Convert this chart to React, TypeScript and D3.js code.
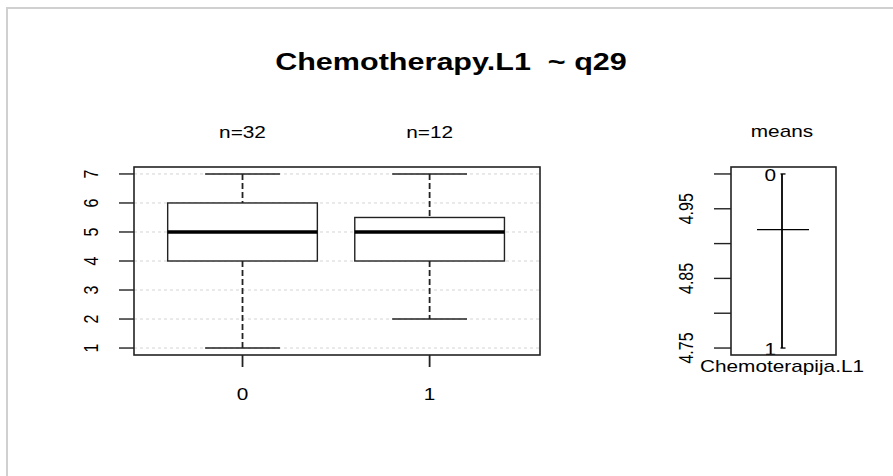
import React from 'react';
import * as d3 from 'd3';

// box plot stats for q29 by Chemotherapy.L1
const groups = ['0', '1'];
const counts = [32, 12];
const mins = [1, 2];
const q1s = [4, 4];
const medians = [5, 5];
const q3s = [6, 5.5];
const maxs = [7, 7];
const yTicks = [1, 2, 3, 4, 5, 6, 7];

// means panel
const groupMeans = [5.0, 4.75];
const grandMean = 4.92;
const meanTicks = [4.75, 4.8, 4.85, 4.9, 4.95, 5.0];
const meanTickLabels = ['4.75', '', '4.85', '', '4.95', ''];

const W = 893;
const H = 476;
const SX = 1.3; // the picture is stretched sideways
const FONT = '"Liberation Sans", Arial, sans-serif';
const INK = '#222';

const Label = ({ x, y, size = 16, anchor = 'middle', bold = false, rot = false, children }: any) => (
  <text
    transform={`translate(${x},${y}) scale(${SX},1)${rot ? ' rotate(-90)' : ''}`}
    textAnchor={anchor}
    fontFamily={FONT}
    fontSize={size}
    fontWeight={bold ? 'bold' : 'normal'}
    fill="#000"
  >
    {children}
  </text>
);

export default function App() {
  // main panel
  const m = { left: 134, right: 540, top: 167, bottom: 355 };
  const x = d3.scaleLinear().domain([-0.58, 1.59]).range([m.left, m.right]);
  const y = d3.scaleLinear().domain([0.76, 7.24]).range([m.bottom, m.top]);
  const step = x(1) - x(0);
  const boxW = step * 0.8;
  const capW = boxW / 2;

  // means panel
  const p = { left: 731, right: 836, top: 167, bottom: 355 };
  const ym = d3.scaleLinear().domain([4.74, 5.01]).range([p.bottom, p.top]);
  const mx = 782;

  return (
    <svg width={W} height={H} style={{ position: 'absolute', left: 0, top: 0, background: '#fff' }}>
      <rect x={7} y={8} width={W} height={H} fill="#fff" stroke="#d0d0d0" strokeWidth={2} />

      <Label x={451} y={70} size={23.5} bold>Chemotherapy.L1{'\u00a0 '}~ q29</Label>

      {/* grid */}
      {yTicks.map(t => (
        <line key={'g' + t} x1={m.left} x2={m.right} y1={y(t)} y2={y(t)}
          stroke="#d4d4d4" strokeDasharray="3,3" strokeWidth={1} />
      ))}

      {/* boxes */}
      {groups.map((g, i) => {
        const cx = x(i);
        return (
          <g key={g}>
            <line x1={cx} x2={cx} y1={y(maxs[i])} y2={y(q3s[i])} stroke={INK} strokeWidth={1.8} strokeDasharray="6,3" />
            <line x1={cx} x2={cx} y1={y(q1s[i])} y2={y(mins[i])} stroke={INK} strokeWidth={1.8} strokeDasharray="6,3" />
            <line x1={cx - capW / 2} x2={cx + capW / 2} y1={y(maxs[i])} y2={y(maxs[i])} stroke={INK} strokeWidth={1.4} />
            <line x1={cx - capW / 2} x2={cx + capW / 2} y1={y(mins[i])} y2={y(mins[i])} stroke={INK} strokeWidth={1.4} />
            <rect x={cx - boxW / 2} y={y(q3s[i])} width={boxW} height={y(q1s[i]) - y(q3s[i])}
              fill="#fff" stroke={INK} strokeWidth={1.4} />
            <line x1={cx - boxW / 2} x2={cx + boxW / 2} y1={y(medians[i])} y2={y(medians[i])} stroke="#000" strokeWidth={3.5} />
            <line x1={cx} x2={cx} y1={m.bottom} y2={m.bottom + 12} stroke={INK} strokeWidth={1.8} />
            <Label x={cx} y={400}>{g}</Label>
            <Label x={cx} y={138}>{`n=${counts[i]}`}</Label>
          </g>
        );
      })}

      {/* y axis */}
      {yTicks.map(t => (
        <g key={'t' + t}>
          <line x1={m.left - 15} x2={m.left} y1={y(t)} y2={y(t)} stroke={INK} strokeWidth={1.4} />
          <Label x={98} y={y(t)} rot>{t}</Label>
        </g>
      ))}
      <rect x={m.left} y={m.top} width={m.right - m.left} height={m.bottom - m.top} fill="none" stroke={INK} strokeWidth={1.6} />

      {/* means panel */}
      <Label x={mx} y={137}>means</Label>
      {meanTicks.map((t, i) => (
        <g key={'m' + t}>
          <line x1={p.left - 17} x2={p.left} y1={ym(t)} y2={ym(t)} stroke={INK} strokeWidth={1.4} />
          {meanTickLabels[i] && <Label x={693} y={ym(t)} rot>{meanTickLabels[i]}</Label>}
        </g>
      ))}
      <line x1={mx} x2={mx} y1={ym(d3.max(groupMeans)!)} y2={ym(d3.min(groupMeans)!)} stroke="#000" strokeWidth={1.8} />
      {groupMeans.map((v, i) => (
        <g key={'gm' + i}>
          <line x1={mx - 1.5} x2={mx + 3.5} y1={ym(v)} y2={ym(v)} stroke="#000" strokeWidth={1.3} />
          <Label x={776} y={ym(v) + 7} anchor="end">{groups[i]}</Label>
        </g>
      ))}
      <line x1={757} x2={809} y1={ym(grandMean)} y2={ym(grandMean)} stroke="#000" strokeWidth={1.4} />
      <rect x={p.left} y={p.top} width={p.right - p.left} height={p.bottom - p.top} fill="none" stroke={INK} strokeWidth={1.6} />
      <Label x={mx} y={372}>Chemoterapija.L1</Label>
    </svg>
  );
}
